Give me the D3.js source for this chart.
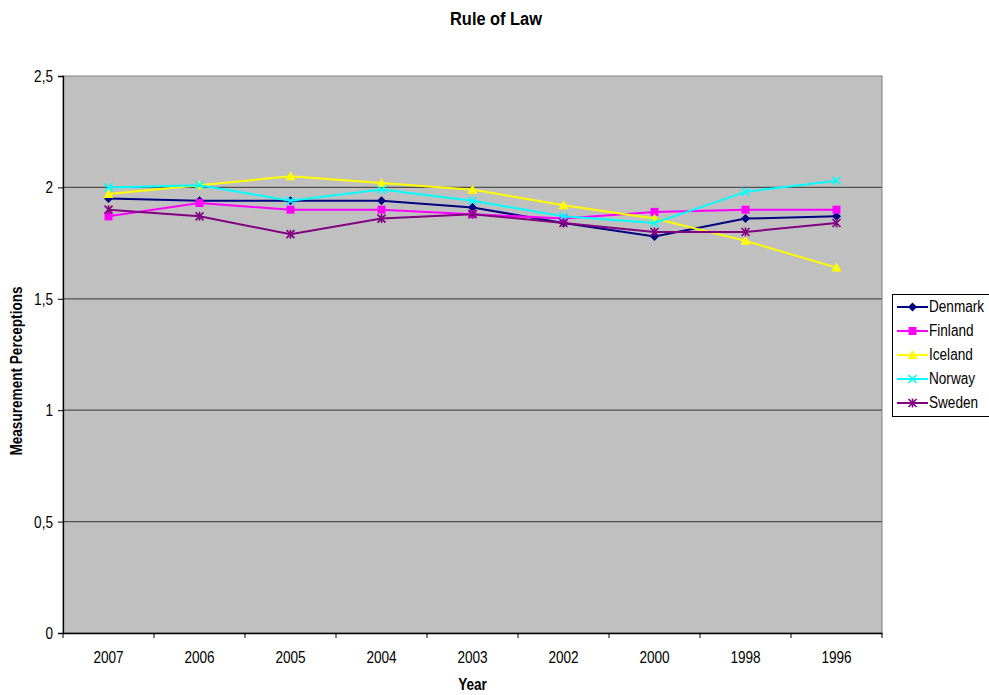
<!DOCTYPE html>
<html><head><meta charset="utf-8">
<script src="https://cdn.jsdelivr.net/npm/d3@7"></script>
<style>body{margin:0;background:#fff;} svg{display:block;font-family:"Liberation Sans",Arial,sans-serif;}</style>
</head><body>
<svg id="c" width="989" height="695"></svg>
<script>
const years = ["2007","2006","2005","2004","2003","2002","2000","1998","1996"];
const yTicks = [0, 0.5, 1, 1.5, 2, 2.5];
const denmark = [1.95,1.94,1.94,1.94,1.91,1.84,1.78,1.86,1.87];
const finland = [1.87,1.93,1.90,1.90,1.88,1.86,1.89,1.90,1.90];
const iceland = [1.97,2.01,2.05,2.02,1.99,1.92,1.86,1.76,1.64];
const norway  = [2.00,2.01,1.94,1.99,1.94,1.87,1.84,1.98,2.03];
const sweden  = [1.90,1.87,1.79,1.86,1.88,1.84,1.80,1.80,1.84];
const seriesNames = ["Denmark","Finland","Iceland","Norway","Sweden"];
const seriesColors = ["#000080","#FF00FF","#FFFF00","#00FFFF","#800080"];
const seriesMarkers = ["diamond","square","triangle","x","star"];
const seriesData = [denmark, finland, iceland, norway, sweden];

const svg = d3.select("#c");
const L = 63, R = 882, T = 76, B = 633;
const FS = 13.6, SY = 1.15;
const x = d3.scaleBand().domain(years).range([L, R]);
const y = d3.scaleLinear().domain([0, 2.5]).range([B, T]);
const fmt = d => String(d).replace(".", ",");

function txt(g, tx, ty, s, opts) {
  opts = opts || {};
  const t = g.append("text")
    .attr("transform", `translate(${tx},${ty})${opts.rot ? " rotate(-90)" : ""} scale(1,${SY})`)
    .attr("font-size", opts.size || FS)
    .attr("text-anchor", opts.anchor || "start")
    .attr("fill", "#000")
    .text(s);
  if (opts.bold) t.attr("font-weight", "bold");
  if (opts.dy) t.attr("dy", opts.dy);
  return t;
}

svg.append("rect").attr("x", L).attr("y", T).attr("width", R - L).attr("height", B - T)
  .attr("fill", "#C0C0C0").attr("stroke", "#808080").attr("stroke-width", 1);

// gridlines
svg.append("g").selectAll("line").data(yTicks.filter(d => d > 0 && d < 2.5)).join("line")
  .attr("x1", L).attr("x2", R).attr("y1", d => y(d)).attr("y2", d => y(d))
  .attr("stroke", "#505050").attr("stroke-width", 1.2);

// axes (lines and ticks via d3 axes; labels drawn with slight vertical stretch)
const yAxis = svg.append("g").attr("transform", `translate(${L},0)`)
  .call(d3.axisLeft(y).tickValues(yTicks).tickFormat(fmt).tickSize(5).tickPadding(6));
const xAxis = svg.append("g").attr("transform", `translate(0,${B})`)
  .call(d3.axisBottom(x).tickSize(0).tickPadding(19));
[yAxis, xAxis].forEach(a => {
  a.select(".domain").attr("stroke", "#000").attr("stroke-width", 1.3);
  a.selectAll(".tick line").attr("stroke", "#000");
  a.selectAll(".tick text").remove();
});
yAxis.selectAll(".tick").each(function(d) {
  txt(d3.select(this), -10, 0, fmt(d), {anchor: "end", dy: "0.35em"});
});
xAxis.selectAll(".tick").each(function(d) {
  txt(d3.select(this), 0, 30, d, {anchor: "middle"});
});
// x boundary ticks
const bounds = years.map(d => x(d)).concat([x(years[years.length - 1]) + x.bandwidth()]);
svg.append("g").selectAll("line").data(bounds).join("line")
  .attr("x1", d => d).attr("x2", d => d)
  .attr("y1", B).attr("y2", B + 5).attr("stroke", "#000");

function marker(g, type, color) {
  const s = 4.5;
  if (type === "diamond") g.append("path").attr("d", `M0,${-s}L${s},0L0,${s}L${-s},0Z`).attr("fill", color);
  else if (type === "square") g.append("rect").attr("x", -4).attr("y", -4).attr("width", 8).attr("height", 8).attr("fill", color);
  else if (type === "triangle") g.append("path").attr("d", `M0,-5L5,4L-5,4Z`).attr("fill", color);
  else if (type === "x") g.append("path").attr("d", `M-4,-4L4,4M-4,4L4,-4`).attr("stroke", color).attr("stroke-width", 1.6).attr("fill", "none");
  else if (type === "star") g.append("path").attr("d", `M-4,-4L4,4M-4,4L4,-4M0,-4.5L0,4.5`).attr("stroke", color).attr("stroke-width", 1.6).attr("fill", "none");
}

const line = d3.line().x((d, i) => x(years[i]) + x.bandwidth() / 2).y(d => y(d));
seriesData.forEach((vals, si) => {
  const g = svg.append("g");
  g.append("path").datum(vals).attr("d", line).attr("fill", "none")
    .attr("stroke", seriesColors[si]).attr("stroke-width", 2);
  vals.forEach((v, i) => {
    const mg = g.append("g").attr("transform", `translate(${x(years[i]) + x.bandwidth() / 2},${y(v)})`);
    marker(mg, seriesMarkers[si], seriesColors[si]);
  });
});

// legend
const lg = svg.append("g");
lg.append("rect").attr("x", 892.5).attr("y", 294.5).attr("width", 100).attr("height", 122)
  .attr("fill", "#fff").attr("stroke", "#000").attr("stroke-width", 1);
seriesNames.forEach((n, i) => {
  const cy = 307 + i * 24;
  lg.append("line").attr("x1", 897).attr("x2", 928).attr("y1", cy).attr("y2", cy)
    .attr("stroke", seriesColors[i]).attr("stroke-width", 2);
  marker(lg.append("g").attr("transform", `translate(912.5,${cy})`), seriesMarkers[i], seriesColors[i]);
  txt(lg, 929, cy, n, {dy: "0.35em"});
});

txt(svg, 496, 25, "Rule of Law", {anchor: "middle", size: 16.4, bold: true});
txt(svg, 472.5, 690, "Year", {anchor: "middle", bold: true});
txt(svg, 22, 371, "Measurement Perceptions", {anchor: "middle", bold: true, rot: true});
</script>
</body></html>
